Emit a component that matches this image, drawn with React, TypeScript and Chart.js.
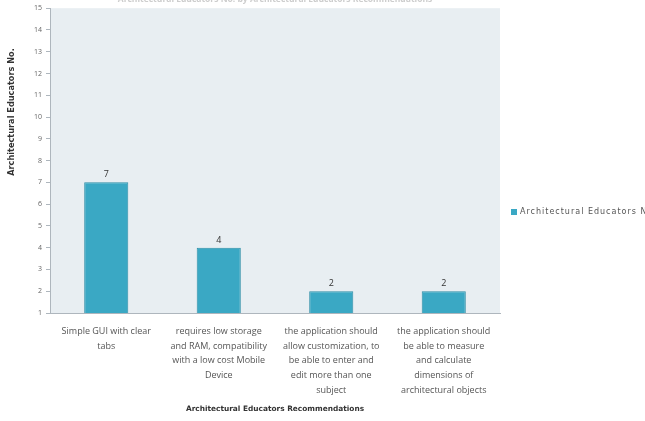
import React, { useEffect, useRef } from "react";
import { Chart, registerables } from "chart.js";

Chart.register(...registerables);

const chartTitle = "Architectural Educators No. by Architectural Educators Recommendations";
const seriesLabel = "Architectural Educators No.";
const xAxisTitle = "Architectural Educators Recommendations";
const yAxisTitle = "Architectural Educators No.";

const categories: string[][] = [
  ["Simple GUI with clear", "tabs"],
  ["requires low storage", "and RAM, compatibility", "with a low cost Mobile", "Device"],
  ["the application should", "allow customization, to", "be able to enter and", "edit more than one", "subject"],
  ["the application should", "be able to measure", "and calculate", "dimensions of", "architectural objects"],
];

const educatorCounts: number[] = [7, 4, 2, 2];

const yMin = 1;
const yMax = 15;

const FONT = "'Open Sans', 'Liberation Sans', sans-serif";
const WIDE = "'DejaVu Sans', sans-serif";
const BAR_FILL = "#3aa8c4";
const BAR_EDGE = "#2d8ea8";
const PLOT_BG = "#e8eef2";
const AXIS_COLOR = "#aeb6bd";

// Shades the plot area, then adds value labels, the rotated y title and the side legend.
const decorations = {
  id: "decorations",
  beforeDraw(chart: any) {
    const { ctx, chartArea } = chart;
    ctx.save();
    ctx.fillStyle = PLOT_BG;
    ctx.fillRect(chartArea.left, chartArea.top, chartArea.right - chartArea.left, chartArea.bottom - chartArea.top);
    ctx.restore();
  },
  afterDatasetsDraw(chart: any) {
    const { ctx } = chart;
    const meta = chart.getDatasetMeta(0);
    const data = chart.data.datasets[0].data as number[];
    ctx.save();
    ctx.font = `9px ${FONT}`;
    ctx.fillStyle = "#333";
    ctx.textAlign = "center";
    ctx.textBaseline = "bottom";
    meta.data.forEach((bar: any, i: number) => {
      ctx.fillText(String(data[i]), bar.x, bar.y - 3);
    });
    ctx.restore();
  },
  afterDraw(chart: any) {
    const { ctx, chartArea } = chart;
    ctx.save();
    // y axis title
    ctx.translate(12, 124);
    ctx.rotate(-Math.PI / 2);
    ctx.font = `bold 8.2px ${WIDE}`;
    ctx.fillStyle = "#333";
    ctx.textAlign = "center";
    ctx.textBaseline = "middle";
    ctx.fillText(yAxisTitle, 0, 0);
    ctx.restore();

    // legend
    const ds = chart.data.datasets[0];
    const lx = chartArea.right + 11;
    const ly = 224;
    ctx.save();
    ctx.fillStyle = ds.backgroundColor;
    ctx.fillRect(lx, ly - 3, 6, 6);
    ctx.font = `8px ${WIDE}`;
    (ctx as any).letterSpacing = "1px";
    ctx.fillStyle = "#555";
    ctx.textAlign = "left";
    ctx.textBaseline = "middle";
    ctx.fillText(ds.label, lx + 9, ly);
    ctx.restore();
  },
};

export default function App() {
  const canvasRef = useRef<HTMLCanvasElement | null>(null);

  useEffect(() => {
    if (!canvasRef.current) return;
    const chart = new Chart(canvasRef.current, {
      type: "bar",
      data: {
        labels: categories,
        datasets: [
          {
            label: seriesLabel,
            data: educatorCounts,
            backgroundColor: BAR_FILL,
            borderColor: BAR_EDGE,
            borderWidth: 1,
            categoryPercentage: 0.8,
            barPercentage: 0.49,
          },
        ],
      },
      options: {
        animation: false,
        responsive: false,
        maintainAspectRatio: false,
        devicePixelRatio: 1,
        layout: { padding: { left: 0, right: 145, top: 0, bottom: 0 } },
        plugins: {
          legend: { display: false },
          tooltip: { enabled: false },
          title: {
            display: true,
            fullSize: false,
            text: chartTitle,
            color: "#cdcdcd",
            font: { family: FONT, size: 8.5 },
            padding: { top: 6, bottom: 4 },
          },
        },
        scales: {
          x: {
            grid: { display: false },
            border: { display: true, color: AXIS_COLOR, width: 1 },
            ticks: {
              autoSkip: false,
              maxRotation: 0,
              minRotation: 0,
              padding: 3,
              color: "#555",
              font: { family: FONT, size: 9, lineHeight: 1.63 },
            },
            title: {
              display: true,
              text: xAxisTitle,
              color: "#333",
              font: { family: WIDE, size: 7.4, weight: "bold" },
              padding: { top: 0, bottom: 7 },
            },
            afterFit(scale: any) {
              scale.height = 108;
            },
          },
          y: {
            min: yMin,
            max: yMax,
            grid: { drawOnChartArea: false, drawTicks: true, tickLength: 4, color: AXIS_COLOR },
            border: { display: true, color: AXIS_COLOR, width: 1 },
            ticks: {
              stepSize: 1,
              padding: 4,
              color: "#666",
              font: { family: FONT, size: 7 },
            },
            afterFit(scale: any) {
              scale.width = 50;
            },
          },
        },
      },
      plugins: [decorations],
    });
    return () => chart.destroy();
  }, []);

  return (
    <div style={{ position: "fixed", top: -12, left: 0, width: 645, height: 433, background: "#fff" }}>
      <canvas ref={canvasRef} width={645} height={433} style={{ display: "block" }} />
    </div>
  );
}
